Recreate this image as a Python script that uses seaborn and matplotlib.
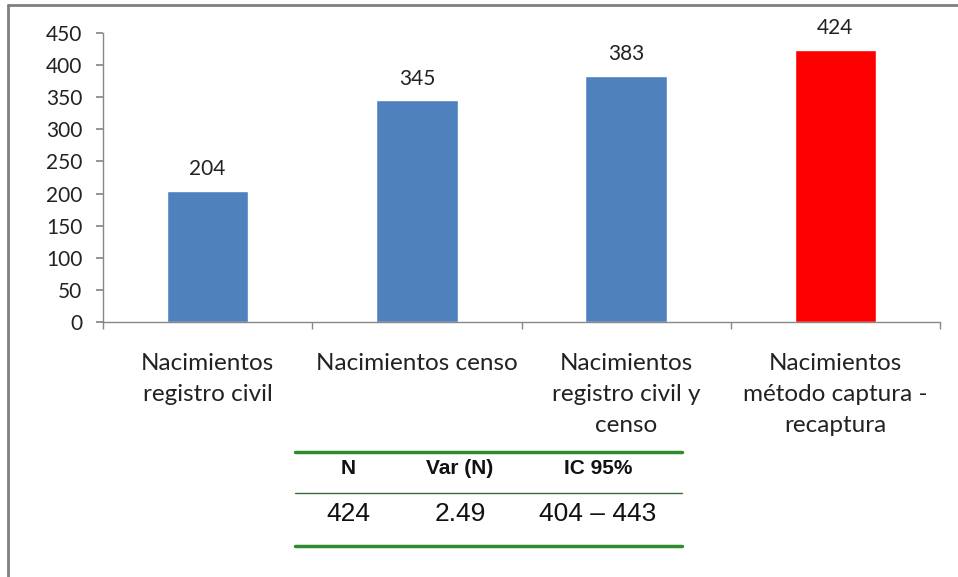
import matplotlib
matplotlib.use("Agg")
import matplotlib.pyplot as plt
import seaborn as sns
import pandas as pd
from matplotlib.lines import Line2D

categories = ["Nacimientos\nregistro civil", "Nacimientos censo",
              "Nacimientos\nregistro civil y\ncenso", "Nacimientos\nmétodo captura -\nrecaptura"]
values = [204, 345, 383, 424]
colors = ["#4F81BD", "#4F81BD", "#4F81BD", "#FF0000"]
yticks = [0, 50, 100, 150, 200, 250, 300, 350, 400, 450]

table_header = ["N", "Var (N)", "IC 95%"]
table_values = ["424", "2.49", "404 – 443"]

sns.set_theme(style="white")
plt.rcParams["font.family"] = ["Lato", "DejaVu Sans"]

W, H = 958, 577
fig = plt.figure(figsize=(W / 100, H / 100), dpi=100)
fig.patch.set_facecolor("white")

left, right, top, bottom = 103, 940, 33, 322
ax = fig.add_axes([left / W, 1 - bottom / H, (right - left) / W, (bottom - top) / H])

df = pd.DataFrame({"cat": categories, "val": values})
sns.barplot(data=df, x="cat", y="val", hue="cat", palette=colors, width=0.39,
            legend=False, ax=ax, saturation=1)

ax.set_xlim(-0.5, len(categories) - 0.5)
ax.set_ylim(0, 450)
ax.set_yticks(yticks)
ax.set_yticklabels([str(t) for t in yticks], fontsize=15, color="#222222")
ax.set_xlabel("")
ax.set_ylabel("")
ax.set_xticks([i + 0.5 for i in range(-1, len(categories))], minor=True)
ax.set_xticks(range(len(categories)))
ax.set_xticklabels(categories, fontsize=17.5, color="#222222", linespacing=1.6, va="top")
ax.tick_params(axis="x", which="major", length=0, pad=22)
ax.tick_params(axis="x", which="minor", length=5, color="#888888", direction="out", bottom=True)
ax.tick_params(axis="y", length=5, color="#888888", direction="out", left=True, pad=10)
for s in ["top", "right"]:
    ax.spines[s].set_visible(False)
for s in ["left", "bottom"]:
    ax.spines[s].set_color("#888888")
    ax.spines[s].set_linewidth(1)

for i, v in enumerate(values):
    ax.text(i, v + 18, str(v), ha="center", va="bottom", fontsize=15, color="#222222")

# Frame (left and top)
fig.add_artist(Line2D([8 / W, 8 / W], [0, 1 - 5 / H], transform=fig.transFigure, color="#7f7f7f", lw=2))
fig.add_artist(Line2D([8 / W, 1], [1 - 5 / H, 1 - 5 / H], transform=fig.transFigure, color="#7f7f7f", lw=2))

# Summary table
tx0, tx1 = 295 / W, 682 / W
for y, lw, c in [(452, 2.5, "#2e8b2e"), (493, 1.0, "#3a6a3a"), (546, 2.5, "#2e8b2e")]:
    fig.add_artist(Line2D([tx0, tx1], [1 - y / H, 1 - y / H], transform=fig.transFigure, color=c, lw=lw))
cols_x = [348, 460, 598]
for x, h, v in zip(cols_x, table_header, table_values):
    fig.text(x / W, 1 - 468 / H, h, ha="center", va="center", fontsize=15,
             fontweight="bold", family=["Liberation Sans", "DejaVu Sans"], color="#111111")
    fig.text(x / W, 1 - 514 / H, v, ha="center", va="center", fontsize=19,
             family=["Liberation Sans", "DejaVu Sans"], color="#111111")

fig.savefig("out.png", dpi=100, facecolor="white")
